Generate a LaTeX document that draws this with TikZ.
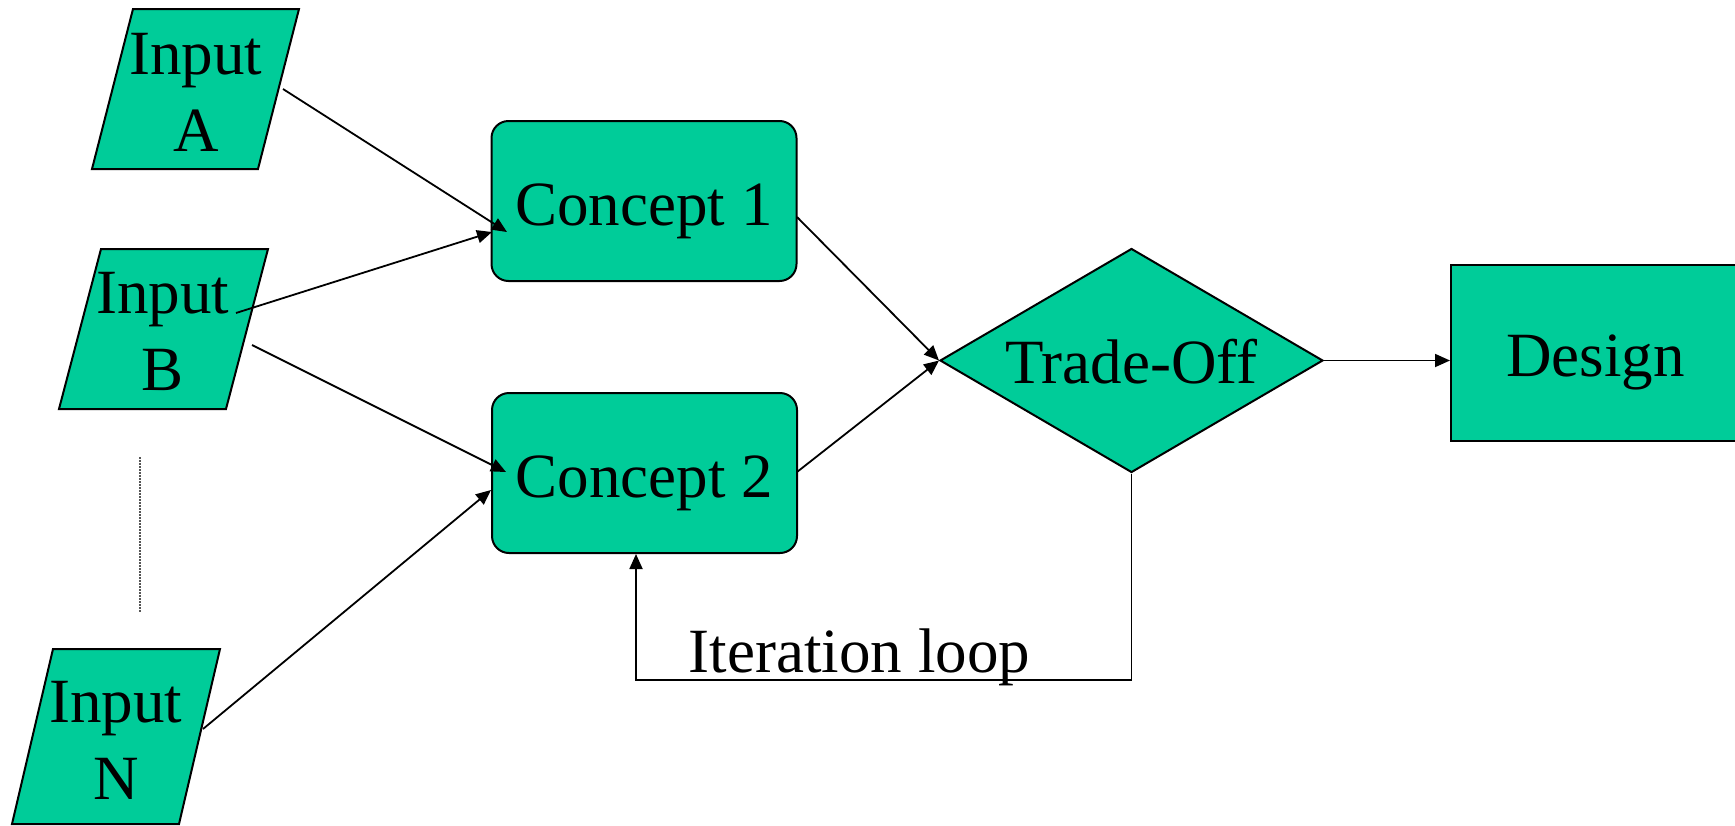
\documentclass[tikz,border=0pt]{standalone}
\usepackage{fontspec}
\setmainfont{Liberation Serif}
\usetikzlibrary{shapes.geometric,arrows.meta}
\definecolor{boxgreen}{HTML}{00CC99}
\definecolor{dotgray}{HTML}{555555}
\begin{document}
\begin{tikzpicture}[x=1pt,y=-1pt,
  every node/.style={font=\fontsize{63}{77}\selectfont},
  shapeline/.style={draw=black,line width=2pt,fill=boxgreen},
  conceptbox/.style={shapeline,rounded corners=17pt,minimum width=305pt,minimum height=160pt,inner sep=0pt,text height=48pt,text depth=0pt},
  decisionbox/.style={shapeline,diamond,aspect=1.71,minimum width=383pt,minimum height=224pt,inner sep=0pt,text height=46pt,text depth=0pt},
  resultbox/.style={shapeline,rectangle,minimum width=289pt,minimum height=176pt,inner sep=0pt,text height=46pt,text depth=0pt},
  intext/.style={anchor=base,align=center,inner sep=0pt},
  conn/.style={draw=black,line width=1.8pt,-{Triangle[length=15pt,width=13pt]}},
  dotline/.style={draw=dotgray,line width=1.5pt,dash pattern=on 1.5pt off 1.5pt}
]
\useasboundingbox (0,0) rectangle (1735,825);

% input parallelograms
\path[shapeline] (133,9) -- (299,9) -- (258,169) -- (92,169) -- cycle;
\node[intext] (inA) at (196,151) {Input\\A};
\path[shapeline] (101,249) -- (268,249) -- (226,409) -- (59,409) -- cycle;
\node[intext] (inB) at (163,390) {Input\\B};
\path[shapeline] (53,649) -- (220,649) -- (179,824) -- (12,824) -- cycle;
\node[intext] (inN) at (116,799) {Input\\N};

% dotted ellipsis line
\coordinate (dotTop) at (140,457);
\coordinate (dotBot) at (140,613);
\draw[dotline] (dotTop) -- (dotBot);

% main boxes
\node[conceptbox] (c1) at (644,201) {Concept 1};
\node[conceptbox] (c2) at (644.5,473) {Concept 2};
\node[decisionbox] (to) at (1131.5,360.5) {Trade-Off};
\node[resultbox] (des) at (1595.5,353) {Design};

% connector end points
\coordinate (aOut) at (283,89);
\coordinate (c1inA) at (507,232);
\coordinate (bOut1) at (236,313);
\coordinate (c1inB) at (492,232);
\coordinate (bOut2) at (252,345);
\coordinate (c2inB) at (506,472);
\coordinate (nOut) at (203,729);
\coordinate (c2inN) at (491,490);
\coordinate (c1out) at (797,217);
\coordinate (c2out) at (797,472);
\coordinate (loopL) at (636,680);

\draw[conn] (aOut) -- (c1inA);
\draw[conn] (bOut1) -- (c1inB);
\draw[conn] (bOut2) -- (c2inB);
\draw[conn] (nOut) -- (c2inN);
\draw[conn] (c1out) -- (to.west);
\draw[conn] (c2out) -- (to.west);
\draw[conn] (to.east) -- (to.east -| des.west);
\draw[conn] (to.south) |- (loopL) -- (c2.south -| loopL);

\node[anchor=base,inner sep=0pt] (iter) at (859.5,672) {Iteration loop};
\end{tikzpicture}
\end{document}
